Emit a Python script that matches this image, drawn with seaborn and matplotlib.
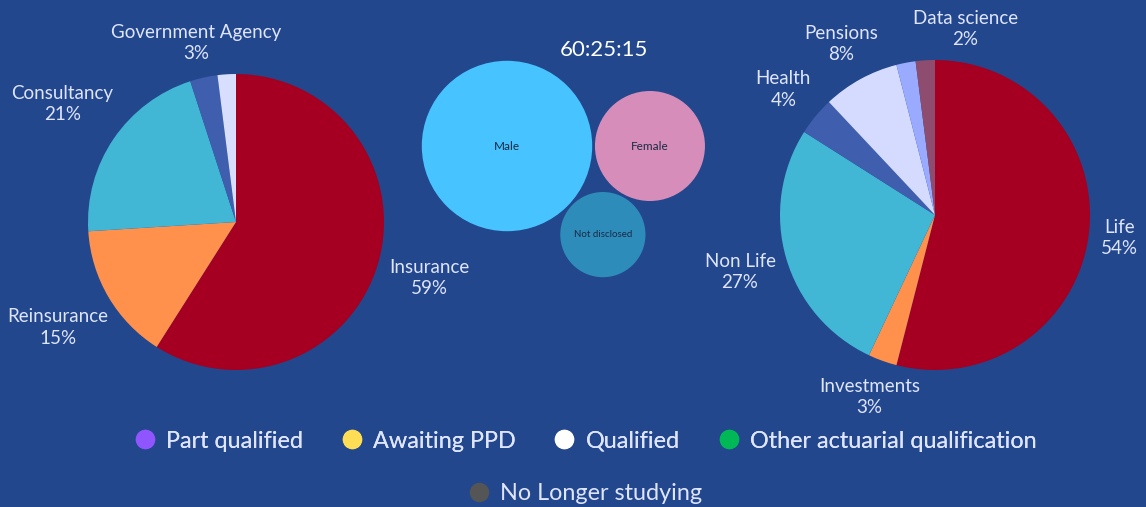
import numpy as np
import matplotlib
matplotlib.use("Agg")
import matplotlib.pyplot as plt
from matplotlib.patches import Circle
from matplotlib.lines import Line2D
import seaborn as sns

# ---- data ----
sector_names = ["Insurance", "Reinsurance", "Consultancy", "Government Agency", ""]
sector_values = [59, 15, 21, 3, 2]

area_names = ["Life", "Investments", "Non Life", "Health", "Pensions", "", "Data science"]
area_values = [54, 3, 27, 4, 8, 2, 2]

gender_names = ["Male", "Female", "Not disclosed"]
gender_values = [60, 25, 15]

legend_names = ["Part qualified", "Awaiting PPD", "Qualified",
                "Other actuarial qualification", "No Longer studying"]

# ---- style ----
BG = "#22478c"
TXT = "#dfe5ff"
sector_colors = ["#a50021", "#ff914d", "#41b6d5", "#3f5fae", "#d8defe"]
area_colors = ["#a50021", "#ff914d", "#41b6d5", "#3f5fae", "#d4dbff", "#9aabff", "#8e4d6e"]
gender_colors = ["#47c3ff", "#d68dba", "#2e8cbb"]
legend_colors = ["#8f55ff", "#ffdd55", "#ffffff", "#00b956", "#555555"]

sns.set_theme(style="white")
plt.rcParams["font.family"] = ["Lato", "DejaVu Sans"]

W, H = 1146, 507
fig = plt.figure(figsize=(W / 100, H / 100), dpi=100, facecolor=BG)


def px_axes(cx, cy, half_w, half_h=None):
    half_h = half_w if half_h is None else half_h
    return fig.add_axes([(cx - half_w) / W, 1 - (cy + half_h) / H,
                         2 * half_w / W, 2 * half_h / H])


def draw_pie(ax, values, names, colors, radius_px, half, dists):
    wedges, _ = ax.pie(values, colors=colors, startangle=90, counterclock=False,
                       wedgeprops=dict(linewidth=0))
    lim = half / radius_px
    ax.set_xlim(-lim, lim)
    ax.set_ylim(-lim, lim)
    ax.set_aspect("equal")
    ax.axis("off")
    total = sum(values)
    for w, n, v, d in zip(wedges, names, values, dists):
        if not n:
            continue
        th = np.deg2rad((w.theta1 + w.theta2) / 2)
        ax.text(d * np.cos(th), d * np.sin(th), f"{n}\n{100 * v / total:.0f}%",
                ha="center", va="center", color=TXT, fontsize=13.5,
                linespacing=1.3, clip_on=False)


# left pie
ax1 = px_axes(236, 222, 200)
draw_pie(ax1, sector_values, sector_names, sector_colors, 148, 200,
         [1.36, 1.4, 1.42, 1.24, 1.3])

# right pie
ax2 = px_axes(935, 215, 200)
draw_pie(ax2, area_values, area_names, area_colors, 155, 200,
         [1.2, 1.25, 1.31, 1.27, 1.26, 1.25, 1.2])
# nudge the crowded top label
for t in ax2.texts:
    if t.get_text().startswith("Data science"):
        x, y = t.get_position()
        t.set_position((x + 0.27, y))

# bubbles: radius ~ sqrt(value), packed tangent to each other
r = np.sqrt(np.array(gender_values, dtype=float))
gap = 0.25
c0 = np.array([0.0, 0.0])
c1 = np.array([r[0] + r[1] + gap, 0.0])
d1, d2, D = r[0] + r[2] + gap, r[1] + r[2] + gap, c1[0]
xx = (d1 ** 2 - d2 ** 2 + D ** 2) / (2 * D)
c2 = np.array([xx, -np.sqrt(d1 ** 2 - xx ** 2)])
centers = [c0, c1, c2]

scale = 11.0  # px per unit
ax3 = fig.add_axes([400 / W, 1 - 300 / H, 320 / W, 240 / H])
x_left = (507 - 400) / scale
y_top = (146 - 60) / scale
ax3.set_xlim(-x_left, -x_left + 320 / scale)
ax3.set_ylim(y_top - 240 / scale, y_top)
ax3.set_aspect("equal")
ax3.axis("off")
for c, rad, col, name, fs in zip(centers, r, gender_colors, gender_names, [8.5, 8.5, 7]):
    ax3.add_patch(Circle(c, rad, color=col, lw=0))
    ax3.text(c[0], c[1], name, ha="center", va="center", fontsize=fs, color="#1b2a44")
fig.text(604 / W, 1 - 50 / H, ":".join(str(v) for v in gender_values),
         ha="center", va="center", color="white", fontsize=16)

# legend
handles = [Line2D([], [], marker="o", ls="", markersize=14, markerfacecolor=c,
                  markeredgewidth=0) for c in legend_colors]
leg1 = fig.legend(handles[:4], legend_names[:4], loc="center", ncol=4,
                  bbox_to_anchor=(584 / W, 1 - 441 / H), frameon=False,
                  fontsize=16.8, labelcolor=TXT, handletextpad=0.35, columnspacing=1.55,
                  handlelength=1.1)
fig.add_artist(leg1)
fig.legend(handles[4:], legend_names[4:], loc="center",
           bbox_to_anchor=(584 / W, 1 - 494 / H), frameon=False,
           fontsize=16.8, labelcolor=TXT, handletextpad=0.35, handlelength=1.1)

fig.savefig("out.png", dpi=100, facecolor=BG)
